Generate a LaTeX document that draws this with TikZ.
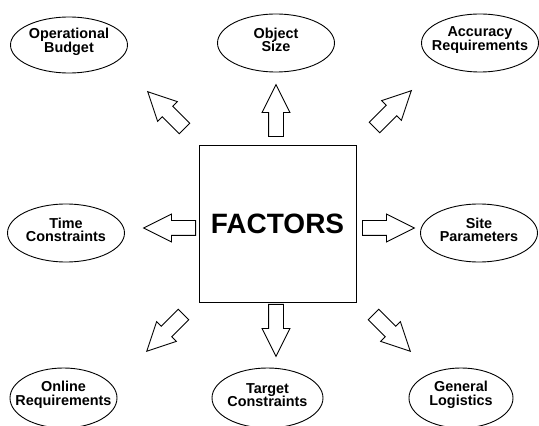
\documentclass[tikz,border=0pt]{standalone}
\usepackage{fontspec}
\setmainfont{Liberation Sans}
\usetikzlibrary{shapes.geometric,shapes.arrows}

\tikzset{
  oval/.style={ellipse, draw, line width=0.9pt, inner sep=0pt,
    minimum width=117pt, minimum height=58pt},
  ovaltext/.style={align=center, inner sep=0pt, yshift=3pt,
    font=\fontsize{14.4}{13.5}\selectfont\bfseries},
  blockarrow/.style={single arrow, draw, line width=0.9pt, anchor=tail,
    inner xsep=0pt, inner ysep=7pt,
    minimum height=52pt, minimum width=27pt,
    single arrow head extend=6.5pt, single arrow tip angle=53},
}

\begin{document}
\begin{tikzpicture}[x=1pt, y=1pt]
  \useasboundingbox (0,0) rectangle (539,426);
  % the central box
  \node[draw, line width=0.9pt, minimum size=157pt,
    font=\fontsize{28}{30}\selectfont\bfseries] (factors) at (277.5,202.5) {FACTORS};

  % top row
  \node[oval, minimum height=56pt, label={[ovaltext]center:Operational\\Budget}] (opbudget) at (69,381) {};
  \node[oval, label={[ovaltext]center:Object\\Size}] (objsize) at (276,383) {};
  \node[oval, label={[ovaltext]center:Accuracy\\Requirements}] (accuracy) at (480,383) {};
  % middle row
  \node[oval, label={[ovaltext]center:Time\\Constraints}] (timecons) at (66,193) {};
  \node[oval, label={[ovaltext]center:Site\\Parameters}] (siteparams) at (479,193) {};
  % bottom row, cut by the page edge
  \node[oval, minimum width=107pt, minimum height=60pt, label={[ovaltext]center:Online\\Requirements}] (online) at (63.5,28) {};
  \node[oval, minimum width=111pt, minimum height=60pt, label={[ovaltext]center:Target\\Constraints}] (target) at (267.5,28) {};
  \node[oval, minimum width=104pt, minimum height=60pt, label={[ovaltext]center:General\\Logistics}] (logistics) at (461,28) {};

  % hollow arrows around the box, placed by their tails
  \node[blockarrow, rotate=90] (toobj) at (276,289) {};
  \node[blockarrow, rotate=-90] (totarget) at (276,122) {};
  \node[blockarrow, rotate=180] (totime) at (196,198) {};
  \node[blockarrow] (tosite) at (362,198) {};
  \node[blockarrow, rotate=135] (tobudget) at (184.8,297.2) {};
  \node[blockarrow, rotate=45] (toaccuracy) at (374.2,298.2) {};
  \node[blockarrow, rotate=225] (toonline) at (183.8,111.8) {};
  \node[blockarrow, rotate=-45] (tologistics) at (373.2,111.8) {};
\end{tikzpicture}
\end{document}
